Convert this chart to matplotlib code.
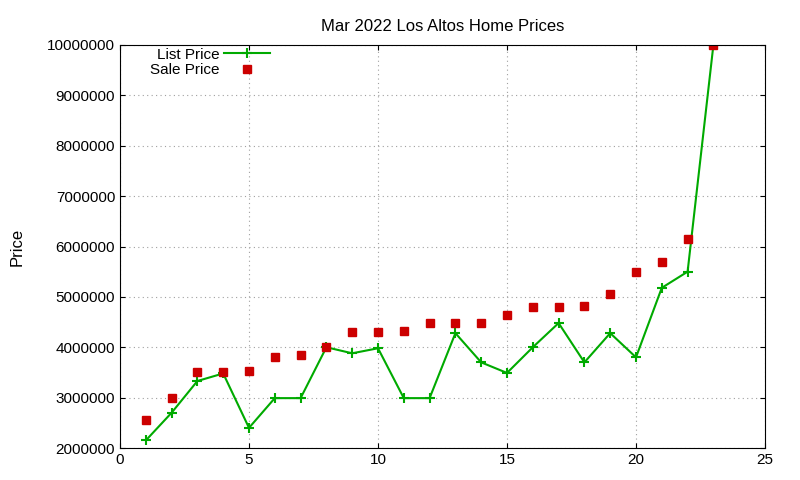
import matplotlib
matplotlib.use("Agg")
import matplotlib.pyplot as plt

x = list(range(1, 24))
list_price = [2150000, 2700000, 3330000, 3480000, 2400000, 2990000, 2990000, 4000000, 3880000, 3980000,
              2990000, 2990000, 4280000, 3700000, 3490000, 4000000, 4480000, 3700000, 4280000, 3800000,
              5180000, 5500000, 10000000]
sale_price = [2550000, 3000000, 3500000, 3500000, 3520000, 3800000, 3850000, 4000000, 4300000, 4300000,
              4320000, 4480000, 4480000, 4480000, 4650000, 4800000, 4800000, 4820000, 5050000, 5500000,
              5700000, 6150000, 10000000]

plt.rcParams['font.family'] = ['Liberation Sans', 'DejaVu Sans']
fig = plt.figure(figsize=(8, 4.8), dpi=100)
ax = fig.add_axes([120/800, 1-448/480, 645/800, 403/480])
ax.plot(x, list_price, color='#00aa00', lw=1.5, marker='+', ms=7, mew=1.5, label='List Price')
ax.plot(x, sale_price, ls='none', marker='s', color='#cc0000', ms=6, label='Sale Price')
ax.set_xlim(0, 25)
ax.set_ylim(2000000, 10000000)
ax.set_xticks(range(0, 26, 5))
ax.set_yticks(range(2000000, 10000001, 1000000))
ax.yaxis.set_major_formatter(matplotlib.ticker.FuncFormatter(lambda v, p: f"{int(v)}"))
ax.grid(True, color='#a0a0a0', ls=(0, (1, 3)), lw=0.8)
ax.tick_params(direction='in', labelsize=11, top=True, right=True)
ax.set_ylabel('Price', fontsize=12, labelpad=16)
ax.set_title('Mar 2022 Los Altos Home Prices', fontsize=12, pad=10)
ax.legend(loc='upper left', bbox_to_anchor=(0.03, 1.02), frameon=False, fontsize=11,
          markerfirst=False, handlelength=3, borderpad=0.2, labelspacing=0.1, handletextpad=0.3)
fig.savefig('out.png', dpi=100)
